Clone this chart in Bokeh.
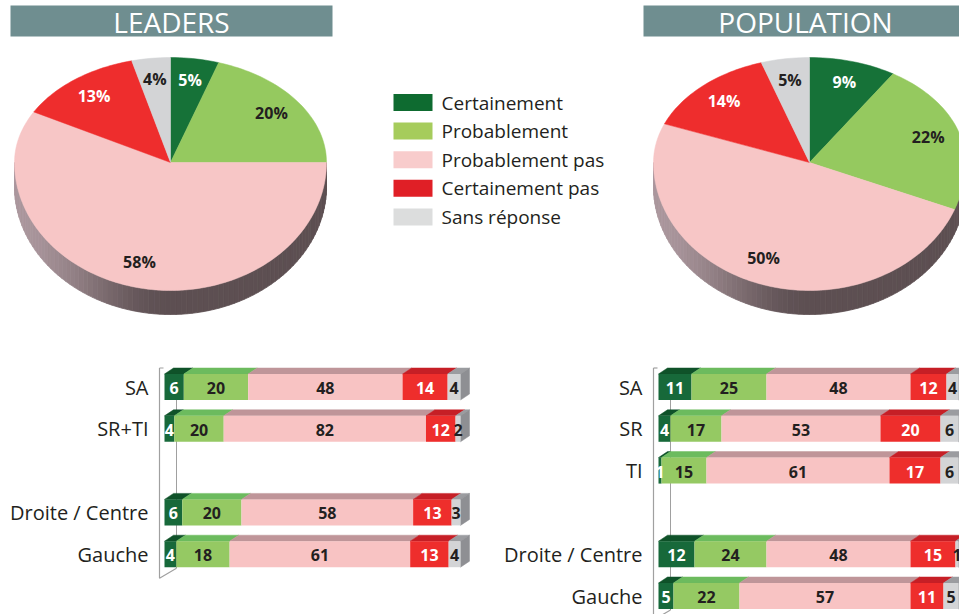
import numpy as np
from bokeh.plotting import figure
from bokeh.models import Range1d
from bokeh.core.properties import value
from bokeh.embed import file_html
from bokeh.resources import INLINE

# ---------------- data ----------------
categories = ["Certainement", "Probablement", "Probablement pas", "Certainement pas", "Sans réponse"]

leaders_pie = [5, 20, 58, 13, 4]
population_pie = [9, 22, 50, 14, 5]

leaders_groups = ["SA", "SR+TI", "", "Droite / Centre", "Gauche"]
leaders_certainement = [6, 4, None, 6, 4]
leaders_probablement = [20, 20, None, 20, 18]
leaders_probablement_pas = [48, 82, None, 58, 61]
leaders_certainement_pas = [14, 12, None, 13, 13]
leaders_sans_reponse = [4, 2, None, 3, 4]

population_groups = ["SA", "SR", "TI", "", "Droite / Centre", "Gauche"]
population_certainement = [11, 4, 1, None, 12, 5]
population_probablement = [25, 17, 15, None, 24, 22]
population_probablement_pas = [48, 53, 61, None, 48, 57]
population_certainement_pas = [12, 20, 17, None, 15, 11]
population_sans_reponse = [4, 6, 6, None, 1, 5]

titles = ["LEADERS", "POPULATION"]

# ---------------- style ----------------
FONT = value("Open Sans")
DARK = "#231f20"
pie_colors = ["#167238", "#95c95f", "#f7c6c6", "#ee2d2d", "#d3d4d6"]
legend_colors = ["#0e6b30", "#a6cc5c", "#f8cccc", "#e01f26", "#dcdddd"]
bar_front = ["#17693a", "#95c963", "#f8c3c3", "#ee2e2c", "#d3d4d6"]
bar_top = ["#0f5229", "#6cbb5e", "#bf9599", "#c61f26", "#9b9ca0"]
bar_side = "#8e8f93"
label_white = [True, False, False, True, False]

W, H = 959, 614
p = figure(width=W, height=H, x_range=Range1d(0, W), y_range=Range1d(H, 0),
           output_backend="svg", toolbar_location=None, min_border=0,
           x_axis_location=None, y_axis_location=None)
p.grid.visible = False
p.outline_line_color = None
p.background_fill_color = "white"
p.border_fill_color = "white"

# ---------------- titles ----------------
title_boxes = [(10, 332), (643, 975)]
for (l, r), t, cx in zip(title_boxes, titles, [171, 805]):
    p.quad(left=[l], right=[r], top=[5], bottom=[36], fill_color="#6f8e90", line_color=None)
    p.text(x=[cx], y=[21], text=[t], text_font=FONT, text_font_size="28px",
           text_color="white", text_align="center", text_baseline="middle")


# ---------------- pies ----------------
def pie_pt(cx, cy, rx, ryt, ryb, theta):
    t = np.radians(theta)
    dx = np.sin(t)
    dy = -np.cos(t)
    ry = np.where(dy < 0, ryt, ryb)
    return cx + rx * dx, cy + ry * dy


def lerp_color(c1, c2, f):
    a = [int(c1[i:i + 2], 16) for i in (1, 3, 5)]
    b = [int(c2[i:i + 2], 16) for i in (1, 3, 5)]
    return "#%02x%02x%02x" % tuple(int(round(a[k] + (b[k] - a[k]) * f)) for k in range(3))


def draw_pie(vals, cx, cy, rx=156, ryt=105, ryb=128, depth=24):
    # side (3D rim)
    ths = np.arange(90, 271, 2.0)
    xs, ys, cs = [], [], []
    for a0, a1 in zip(ths[:-1], ths[1:]):
        x0, y0 = pie_pt(cx, cy, rx, ryt, ryb, a0)
        x1, y1 = pie_pt(cx, cy, rx, ryt, ryb, a1)
        xs.append([float(x0), float(x1), float(x1), float(x0)])
        ys.append([float(y0), float(y1), float(y1) + depth, float(y0) + depth])
        f = ((x0 + x1) / 2 - (cx - rx)) / (2 * rx)
        s = min(1.0, max(0.0, f / 0.5))
        s = s * s * (3 - 2 * s)
        cs.append(lerp_color("#ab979d", "#5d4f52", s))
    p.patches(xs=xs, ys=ys, fill_color=cs, line_color=cs, line_width=0.8)

    total = sum(vals)
    start = 0.0
    for i, v in enumerate(vals):
        a0 = start / total * 360
        a1 = (start + v) / total * 360
        th = np.linspace(a0, a1, max(4, int((a1 - a0) / 1.5)))
        px, py = pie_pt(cx, cy, rx, ryt, ryb, th)
        p.patch(x=[cx] + list(px), y=[cy] + list(py), fill_color=pie_colors[i],
                line_color=pie_colors[i], line_width=0.5)
        mid = (a0 + a1) / 2
        lx, ly = pie_pt(cx, cy, rx * 0.8, ryt * 0.8, ryb * 0.8, mid)
        p.text(x=[float(lx)], y=[float(ly)], text=["%d%%" % v], text_font=FONT,
               text_font_size="16px", text_font_style="bold",
               text_color="white" if label_white[i] else DARK,
               text_align="center", text_baseline="middle")
        start += v


draw_pie(leaders_pie, 170, 162)
draw_pie(population_pie, 809, 162)

# ---------------- legend ----------------
for i, c in enumerate(categories):
    yc = 102 + i * 28.6
    p.quad(left=[393], right=[432], top=[yc - 8.5], bottom=[yc + 8.5],
           fill_color=legend_colors[i], line_color=None)
    p.text(x=[441], y=[yc], text=[c], text_font=FONT, text_font_size="19px",
           text_color=DARK, text_align="left", text_baseline="middle")


# ---------------- bars ----------------
def draw_bars(groups, series, x0, width=296, row0=386.5, pitch=41.8, bh=26, ddx=9, ddy=6):
    n_last = max(i for i, g in enumerate(groups) if g)
    y_first_top = row0 - bh / 2
    y_last_bot = row0 + n_last * pitch + bh / 2
    # 3D axis
    p.line(x=[x0 + 12, x0 + 12], y=[y_first_top - ddy, y_last_bot + 1], line_color="#a0a0a0", line_width=1)
    p.line(x=[x0 - 5, x0 - 5, x0 + 12], y=[y_first_top - ddy, y_last_bot + 11, y_last_bot + 1],
           line_color="#a0a0a0", line_width=1.2)
    p.line(x=[x0 - 5, x0 - 1], y=[y_first_top - ddy, y_first_top - ddy], line_color="#a0a0a0", line_width=1.2)
    for i, g in enumerate(groups):
        if not g:
            continue
        vals = [s[i] for s in series]
        total = float(sum(vals))
        yc = row0 + i * pitch
        top, bot = yc - bh / 2, yc + bh / 2
        cum = np.concatenate([[0], np.cumsum(vals)]) / total * width + x0
        lefts, rights = cum[:-1], cum[1:]
        # top faces
        txs = [[float(l), float(r), float(r) + ddx, float(l) + ddx] for l, r in zip(lefts, rights)]
        tys = [[top, top, top - ddy, top - ddy] for _ in vals]
        p.patches(xs=txs, ys=tys, fill_color=bar_top, line_color=bar_top, line_width=0.5)
        # right side face
        R = float(rights[-1])
        p.patch(x=[R, R + ddx, R + ddx, R], y=[top, top - ddy, bot - ddy, bot],
                fill_color=bar_side, line_color=bar_side, line_width=0.5)
        # front faces
        p.quad(left=list(lefts), right=list(rights), top=[top] * len(vals), bottom=[bot] * len(vals),
               fill_color=bar_front, line_color=None)
        # value labels
        p.text(x=list((lefts + rights) / 2), y=[yc + 1] * len(vals), text=[str(v) for v in vals],
               text_font=FONT, text_font_size="16px", text_font_style="bold",
               text_color=["white" if w else DARK for w in label_white],
               text_align="center", text_baseline="middle")
        # category label
        p.text(x=[x0 - 16], y=[yc], text=[g], text_font=FONT, text_font_size="20px",
               text_color=DARK, text_align="right", text_baseline="middle")


draw_bars(leaders_groups,
          [leaders_certainement, leaders_probablement, leaders_probablement_pas,
           leaders_certainement_pas, leaders_sans_reponse], 164)
draw_bars(population_groups,
          [population_certainement, population_probablement, population_probablement_pas,
           population_certainement_pas, population_sans_reponse], 658, width=300)

open("out.html", "w").write(file_html(p, INLINE))
